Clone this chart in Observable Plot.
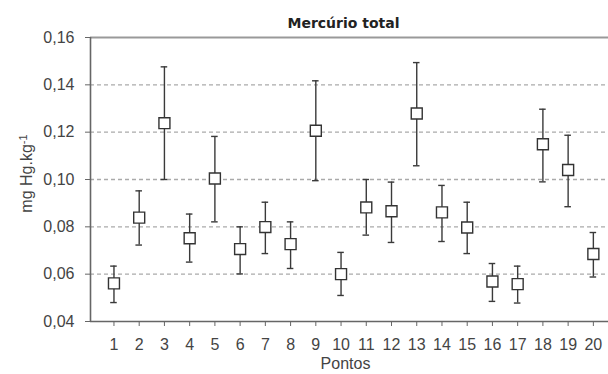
<!DOCTYPE html>
<html><head><meta charset="utf-8">
<script src="https://cdn.jsdelivr.net/npm/d3@7"></script>
<script src="https://cdn.jsdelivr.net/npm/@observablehq/plot@0.6"></script>
<style>body{margin:0;background:#fff} svg{display:block}</style>
</head><body><div id="chart"></div>
<script>
const pontos = [1,2,3,4,5,6,7,8,9,10,11,12,13,14,15,16,17,18,19,20];
const media = [0.0561,0.0839,0.1238,0.0752,0.1004,0.0706,0.0799,0.0727,0.1206,0.0600,0.0882,0.0866,0.1279,0.0861,0.0797,0.0569,0.0558,0.1149,0.1040,0.0685];
const superior = [0.0634,0.0952,0.1476,0.0854,0.1182,0.0800,0.0904,0.0821,0.1417,0.0692,0.1000,0.0989,0.1494,0.0975,0.0904,0.0645,0.0634,0.1297,0.1187,0.0776];
const inferior = [0.0480,0.0723,0.1000,0.0651,0.0821,0.0601,0.0687,0.0624,0.0995,0.0510,0.0765,0.0734,0.1058,0.0738,0.0687,0.0485,0.0478,0.0990,0.0885,0.0588];
const yTicks = [0.04,0.06,0.08,0.10,0.12,0.14,0.16];
const gridTicks = [0.06,0.08,0.10,0.12,0.14];
const titulo = "Mercúrio total";
const xLabel = "Pontos";
const yLabel = "mg Hg.kg";
const yLabelSup = "-1";

const data = pontos.map((p, i) => ({p, m: media[i], hi: superior[i], lo: inferior[i]}));
const xDomain = [0.07, 20.6];
const capHalf = 0.13;
const font = "'Liberation Sans', Arial, sans-serif";

const chart = Plot.plot({
  width: 608, height: 374,
  marginLeft: 90, marginRight: 0, marginTop: 37, marginBottom: 53,
  style: {fontFamily: font, fontSize: "16px", color: "#333", background: "#fff"},
  x: {type: "linear", domain: xDomain},
  y: {domain: [0.04, 0.16]},
  marks: [
    Plot.ruleY(gridTicks, {stroke: "#aaa", strokeWidth: 1.3, strokeDasharray: "4,3"}),
    Plot.ruleY([0.16], {stroke: "#999", strokeWidth: 2}),
    Plot.ruleY([0.04], {stroke: "#666", strokeWidth: 1.6}),
    Plot.ruleX([xDomain[0]], {stroke: "#666", strokeWidth: 1.6}),
    Plot.axisY({ticks: yTicks, tickSize: 5, tickPadding: 11, tickFormat: d => d3.format(".2f")(d).replace(".", ","), label: null, stroke: "#666", fill: "#444", fontSize: 16}),
    Plot.axisX({ticks: pontos, tickSize: 5, tickPadding: 12, tickFormat: d => String(d), label: null, stroke: "#666", fill: "#444", fontSize: 16}),
    Plot.ruleX(data, {x: "p", y1: "lo", y2: "hi", stroke: "#3a3a3a", strokeWidth: 1.4}),
    Plot.ruleY(data, {y: "hi", x1: d => d.p - capHalf, x2: d => d.p + capHalf, stroke: "#3a3a3a", strokeWidth: 1.4}),
    Plot.ruleY(data, {y: "lo", x1: d => d.p - capHalf, x2: d => d.p + capHalf, stroke: "#3a3a3a", strokeWidth: 1.4}),
    Plot.dot(data, {x: "p", y: "m", symbol: "square", r: 6.2, fill: "white", stroke: "#333", strokeWidth: 1.4}),
    Plot.text([titulo], {frameAnchor: "top", dx: -6, dy: -19, fontWeight: "bold", fontSize: 14, fill: "#222", fontFamily: "'DejaVu Sans', Verdana, sans-serif"}),
    Plot.text([xLabel], {frameAnchor: "bottom", dx: -4, dy: 47, fontSize: 16, fill: "#444"}),
    Plot.text([yLabel], {frameAnchor: "left", textAnchor: "middle", dx: -64, dy: -6, rotate: -90, fontSize: 16, fill: "#444", className: "ylab"})
  ]
});
document.getElementById("chart").appendChild(chart);
// superscript on the y label
d3.select(chart).selectAll(".ylab text").each(function() {
  const t = d3.select(this);
  t.append("tspan").attr("dy", "-0.45em").attr("font-size", "11px").text(yLabelSup);
});
</script>
</body></html>
